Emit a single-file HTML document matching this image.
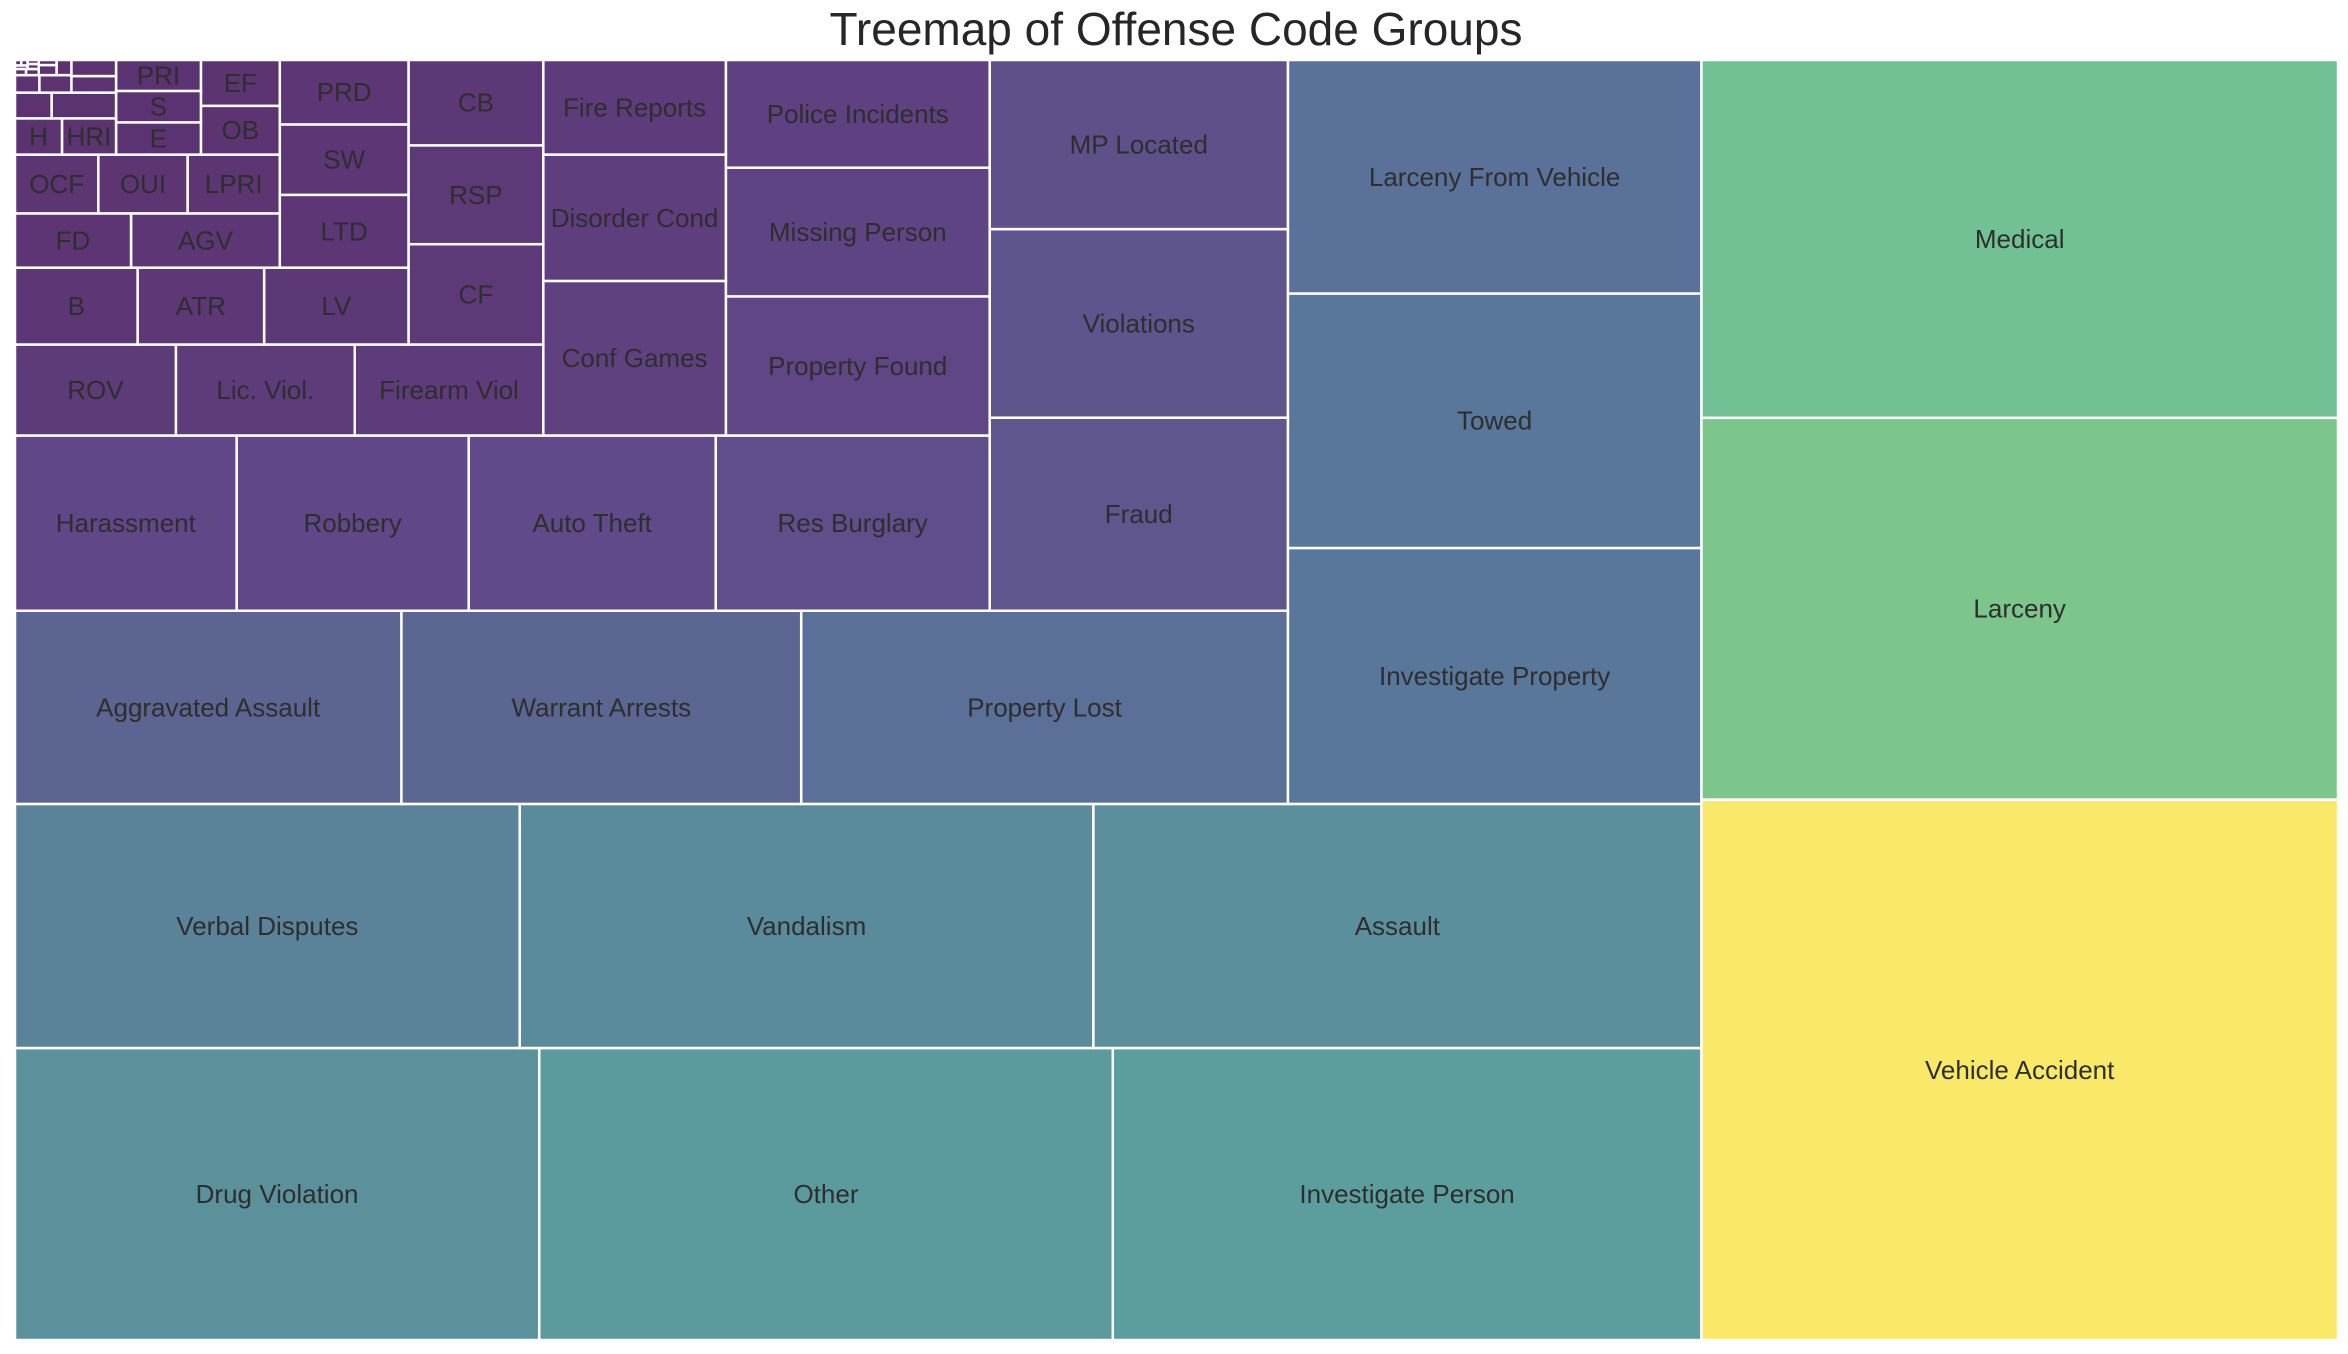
<!DOCTYPE html>
<html>
<head>
<meta charset="utf-8">
<style>
html,body{margin:0;padding:0;background:#fff;}
svg{display:block;}
text{font-family:"Liberation Sans",Arial,sans-serif;}
</style>
</head>
<body>
<svg id="chart" width="2348" height="1354" viewBox="0 0 2348 1354" xmlns="http://www.w3.org/2000/svg">
  <rect x="0" y="0" width="2348" height="1354" fill="#ffffff"/>
  <text x="1176" y="45" text-anchor="middle" font-size="46" fill="#262626">Treemap of Offense Code Groups</text>
  <g id="cells"></g>
  <g id="labels"></g>
</svg>
<script>
// ---- data (sorted descending) ----
const categories = ["Vehicle Accident","Larceny","Medical","Investigate Person","Other","Drug Violation","Assault","Vandalism","Verbal Disputes","Investigate Property","Towed","Larceny From Vehicle","Property Lost","Warrant Arrests","Aggravated Assault","Fraud","Violations","MP Located","Res Burglary","Auto Theft","Robbery","Harassment","Property Found","Missing Person","Police Incidents","Conf Games","Disorder Cond","Fire Reports","Firearm Viol","Lic. Viol.","ROV","CF","RSP","CB","LV","ATR","B","LTD","SW","PRD","AGV","FD","LPRI","OUI","OCF","OB","EF","E","S","PRI","HRI","H","","","","","","","","","","","","","",""];
const counts = [153425,108375,101575,76635,74685,68250,66178,62429,54931,47196,46920,43056,41925,34443,33282,25671,25074,22487,21411,19305,18135,17316,16368,15136,12672,12584,10285,7700,7650,7259,6527,6030,5940,5130,4947,4335,4200,4180,4042,3698,3600,2808,2418,2340,2184,1716,1612,1220,1190,1170,874,759,740,420,330,320,250,190,100,80,40,35,30,25,20,20,15,15];

// ---- layout constants ----
const PL=15, PR=2338, PT=60, PB=1340;
const NX=100, NY=100;
const xScale = v => PR - v*(PR-PL)/NX;   // x axis reversed
const yScale = v => PB - v*(PB-PT)/NY;   // y axis up

// muted viridis-like colour stops (style, not data)
const stops=[[0,[92,50,112]],[0.12,[96,72,136]],[0.22,[92,101,145]],[0.28,[90,113,153]],[0.31,[88,120,154]],[0.36,[90,131,153]],[0.45,[90,146,155]],[0.5,[92,158,158]],[0.66,[114,193,148]],[0.71,[125,197,138]],[0.85,[185,220,115]],[1,[250,233,104]]];
function colorAt(t){
  for(let i=1;i<stops.length;i++){
    if(t<=stops[i][0]){
      const a=stops[i-1],b=stops[i],f=(t-a[0])/(b[0]-a[0]);
      return 'rgb('+a[1].map((c,k)=>Math.round(c+(b[1][k]-c)*f)).join(',')+')';
    }
  }
  return 'rgb(250,233,104)';
}

// ---- squarify ----
function layoutrow(s,x,y,dx,dy){const c=s.reduce((a,b)=>a+b,0),w=c/dy,r=[];for(const v of s){r.push({x:x,y:y,dx:w,dy:v/w});y+=v/w;}return r;}
function layoutcol(s,x,y,dx,dy){const c=s.reduce((a,b)=>a+b,0),h=c/dx,r=[];for(const v of s){r.push({x:x,y:y,dx:v/h,dy:h});x+=v/h;}return r;}
function layout(s,x,y,dx,dy){return dx>=dy?layoutrow(s,x,y,dx,dy):layoutcol(s,x,y,dx,dy);}
function leftover(s,x,y,dx,dy){const c=s.reduce((a,b)=>a+b,0);if(dx>=dy){const w=c/dy;return [x+w,y,dx-w,dy];}const h=c/dx;return [x,y+h,dx,dy-h];}
function worst(s,x,y,dx,dy){return Math.max(...layout(s,x,y,dx,dy).map(r=>Math.max(r.dx/r.dy,r.dy/r.dx)));}
function squarify(s,x,y,dx,dy){
  if(s.length===0)return [];
  if(s.length===1)return layout(s,x,y,dx,dy);
  let i=1;
  while(i<s.length && worst(s.slice(0,i),x,y,dx,dy)>=worst(s.slice(0,i+1),x,y,dx,dy)) i++;
  const cur=s.slice(0,i),rem=s.slice(i);
  const [lx,ly,ldx,ldy]=leftover(cur,x,y,dx,dy);
  return layout(cur,x,y,dx,dy).concat(squarify(rem,lx,ly,ldx,ldy));
}
const total=counts.reduce((a,b)=>a+b,0);
const norm=counts.map(v=>v*NX*NY/total);
const rects=squarify(norm,0,0,NX,NY);
const vmin=Math.min(...counts),vmax=Math.max(...counts);

const NS='http://www.w3.org/2000/svg';
const gC=document.getElementById('cells'),gL=document.getElementById('labels');
rects.forEach((r,i)=>{
  const x0=xScale(r.x+r.dx),x1=xScale(r.x),y0=yScale(r.y+r.dy),y1=yScale(r.y);
  const el=document.createElementNS(NS,'rect');
  el.setAttribute('x',x0);el.setAttribute('y',y0);
  el.setAttribute('width',x1-x0);el.setAttribute('height',y1-y0);
  el.setAttribute('fill',colorAt((counts[i]-vmin)/(vmax-vmin)));
  el.setAttribute('stroke','#ffffff');el.setAttribute('stroke-width','2.5');
  const slug=(categories[i]||('minor-'+i)).toLowerCase().replace(/[^a-z0-9]+/g,'-').replace(/-$/,'');
  
  
  gC.appendChild(el);
  if(categories[i]){
    const t=document.createElementNS(NS,'text');
    t.setAttribute('x',(x0+x1)/2);t.setAttribute('y',(y0+y1)/2+9);
    t.setAttribute('text-anchor','middle');t.setAttribute('font-size','26');
    t.setAttribute('fill','#2e2e2e');
    t.textContent=categories[i];
    
    
    gL.appendChild(t);
  }
});
</script>
</body>
</html>
